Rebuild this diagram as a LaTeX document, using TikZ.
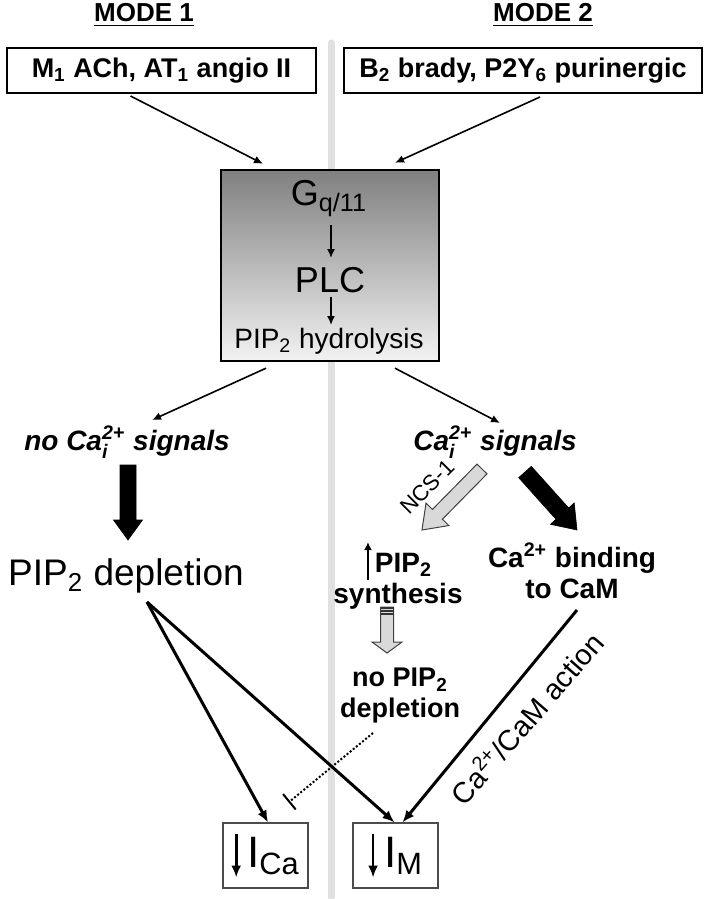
\documentclass[tikz,border=0pt]{standalone}
\usepackage{fontspec}
\setmainfont{Liberation Sans}
\usepackage{amsmath}
\usetikzlibrary{arrows.meta,calc}

% block arrow: style, from, to, half shaft, half head, head length
\newcommand{\fatarrow}[6]{%
  \coordinate (fa-h) at ($(#3)!#6!(#2)$);
  \draw[#1] ($(#2)!#4!90:(#3)$) -- ($(fa-h)!#4!90:(#3)$) -- ($(fa-h)!#5!90:(#3)$)
    -- (#3) -- ($(fa-h)!#5!-90:(#3)$) -- ($(fa-h)!#4!-90:(#3)$) -- ($(#2)!#4!-90:(#3)$) -- cycle;
}
% tall arrows set in the text
\newcommand{\uparr}{\tikz[x=1pt,y=1pt,baseline=0pt]\draw[line width=1pt,-{Latex[length=4pt,width=4pt]}] (0,-4) -- (0,15);\hspace{1.5pt}}
\newcommand{\downarr}{\tikz[x=1pt,y=1pt,baseline=0pt]\draw[line width=1.4pt,-{Latex[length=6pt,width=5pt]}] (0,17) -- (0,-5);\hspace{3pt}}

\begin{document}
\begin{tikzpicture}[x=0.5pt, y=-0.5pt,
    thinarr/.style={line width=0.8pt, -{Latex[length=4.5pt,width=4pt]}},
    thickarr/.style={line width=1.5pt, -{Latex[length=6pt,width=5pt]}},
    blk/.style={fill=black, draw=black, line width=0.3pt},
    pale/.style={fill=black!15, draw=black!75, line width=0.5pt},
    recbox/.style={draw, line width=1pt, minimum height=22.5pt, inner sep=0pt,
        font=\fontsize{13.5}{16}\selectfont\bfseries},
    ibox/.style={draw=black!70, line width=0.6pt, minimum width=42.5pt, minimum height=32.5pt,
        inner sep=0pt, font=\fontsize{22}{26}\selectfont},
    sig/.style={anchor=base, font=\fontsize{14}{17}\selectfont\bfseries\itshape},
    bold2/.style={align=center, font=\fontsize{14}{16.5}\selectfont\bfseries}]
    \useasboundingbox (0,0) rectangle (703,899);

    \draw[black!12, line width=3.5pt, line cap=round] (331,43) -- (331,897);

    \node[anchor=base, font=\fontsize{13}{15}\selectfont\bfseries] (mode1) at (144,22) {\underline{MODE 1}};
    \node[anchor=base, font=\fontsize{13}{15}\selectfont\bfseries] (mode2) at (543,22) {\underline{MODE 2}};

    \node[recbox, minimum width=154.5pt] (rec1) at (161.5,70.5) {M\textsubscript{1} ACh, AT\textsubscript{1} angio II};
    \node[recbox, minimum width=179pt] (rec2) at (523,70.5) {B\textsubscript{2} brady, P2Y\textsubscript{6} purinergic};

    % G protein box
    \node[draw, line width=1.2pt, minimum width=109pt, minimum height=95.5pt,
        top color=black!50, bottom color=black!5] (gq) at (330,265.5) {};
    \node[anchor=base, font=\fontsize{18}{21}\selectfont] (gname) at (329,205) {G\textsubscript{q/11}};
    \node[anchor=base, font=\fontsize{18}{21}\selectfont] (plc) at (330,292) {PLC};
    \node[anchor=base, font=\fontsize{14}{17}\selectfont] (hydro) at (329,348) {PIP\textsubscript{2} hydrolysis};

    \draw[thinarr] ($(rec1.south)+(-31,2)$) -- ($(gq.north)+(-67,-5)$);
    \draw[thinarr] ($(rec2.south)+(17,3)$) -- ($(gq.north)+(65,-6)$);
    \draw[thinarr] ($(gname.base)+(2,20)$) -- ($(plc.base)+(1,-34)$);
    \draw[thinarr] ($(plc.base)+(1,5)$) -- ($(hydro.base)+(2,-23)$);

    \node[sig] (nosig) at (127,450) {no Ca$^{\text{2+}}_{\text{i}}$ signals};
    \node[sig] (casig) at (495,450) {Ca$^{\text{2+}}_{\text{i}}$ signals};
    \draw[thinarr] ($(gq.south)+(-64,6)$) -- ($(nosig.base)+(25,-30)$);
    \draw[thinarr] ($(gq.south)+(65,6)$) -- ($(casig.base)+(5,-27)$);

    \node[anchor=base, font=\fontsize{18.5}{22}\selectfont] (depl) at (126,585) {PIP\textsubscript{2} depletion};
    \node[bold2] (synth) at (398,575) {\uparr PIP\textsubscript{2}\\[-1pt]synthesis};
    \node[bold2] (bind) at (572,571) {Ca\textsuperscript{2+} binding\\[-1pt]to CaM};
    \node[bold2, font=\fontsize{13.5}{15.5}\selectfont\bfseries] (nodepl) at (400,696) {no PIP\textsubscript{2}\\depletion};

    \node[ibox] (ica) at (265.5,855.5) {\downarr I\textsubscript{Ca}};
    \node[ibox] (im) at (395.5,855.5) {\downarr I\textsubscript{M}};

    % block arrows
    \coordinate (ba1) at ($(nosig.base)+(1,15)$);
    \coordinate (ba2) at ($(depl.base)+(2,-45)$);
    \fatarrow{blk}{ba1}{ba2}{4pt}{7.25pt}{10pt}
    \coordinate (bb1) at ($(casig.base)+(30,22)$);
    \coordinate (bb2) at ($(bind.center)+(5,-41)$);
    \fatarrow{blk}{bb1}{bb2}{4.25pt}{8pt}{11pt}
    \coordinate (nc1) at ($(casig.base)+(-13,19)$);
    \coordinate (nc2) at ($(synth.center)+(24,-45)$);
    \fatarrow{pale}{nc1}{nc2}{3.5pt}{8pt}{11pt}
    \coordinate (gd1) at ($(synth.center)+(-11,32)$);
    \coordinate (gd2) at ($(nodepl.center)+(-13,-43)$);
    \fatarrow{pale}{gd1}{gd2}{3.25pt}{7.5pt}{5.5pt}
    \foreach \d in {1,4,7}
        \draw[black!80, line width=0.6pt] ($(gd1)+(-6.5,\d)$) -- ++(13,0);

    \node[rotate=45, font=\fontsize{11}{13}\selectfont] (ncs) at (427,487) {NCS-1};

    % to the currents
    \draw[thickarr] ($(depl.base)+(21,17)$) -- ($(ica.north)+(2.5,0)$);
    \draw[thickarr] ($(depl.base)+(21,17)$) -- ($(im.north)+(-1,0)$);
    \draw[thickarr] ($(bind.center)+(5,39)$) -- ($(im.north)+(7,0)$);
    \node[rotate=49, font=\fontsize{14.5}{17}\selectfont] (camact) at (526,718) {Ca\textsuperscript{2+}/CaM action};
    \draw[line width=1pt, densely dotted, -{Bar[width=10pt]}] ($(nodepl.center)+(-27,37)$) -- ($(ica.north east)+(-20,-20)$);

\end{tikzpicture}
\end{document}
